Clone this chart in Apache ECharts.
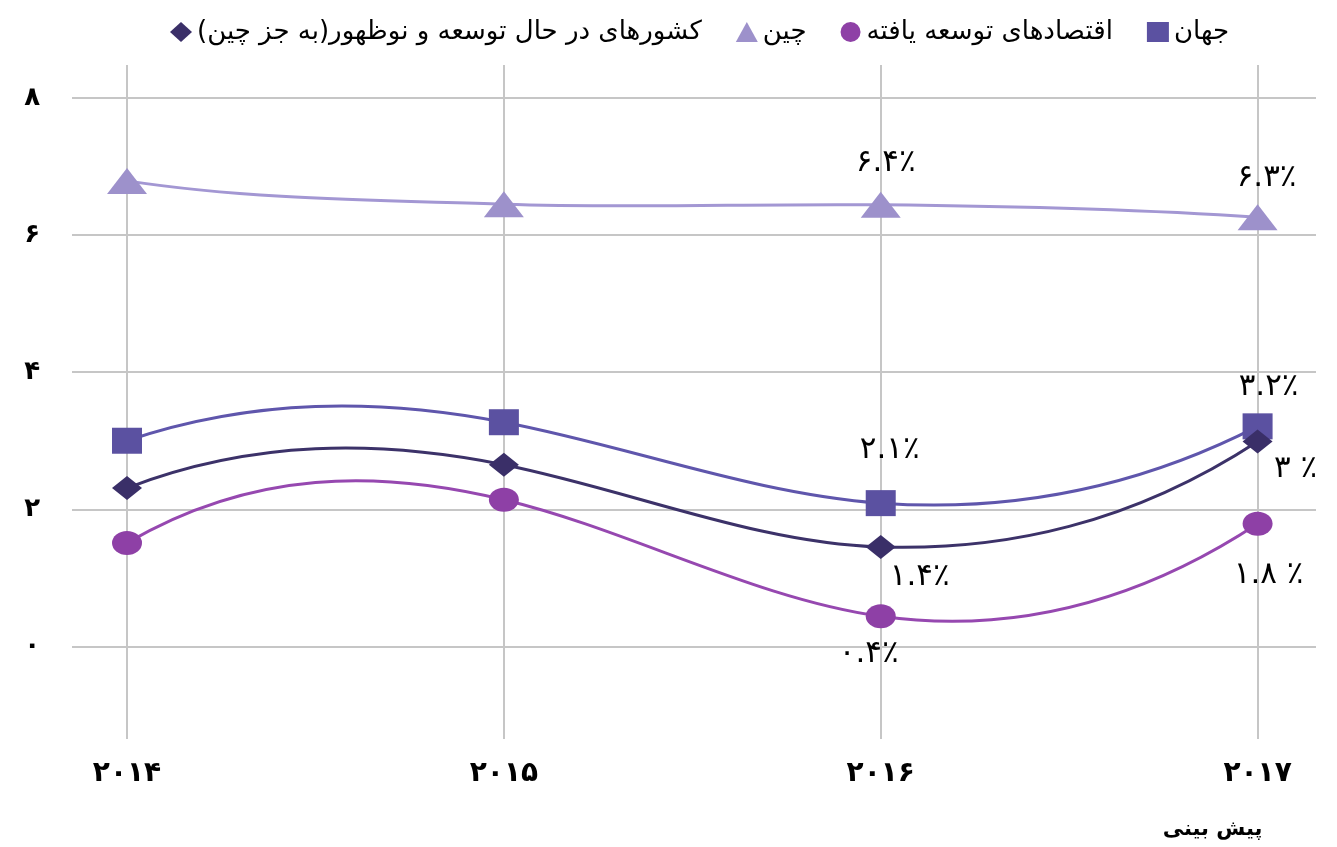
<!DOCTYPE html>
<html>
<head>
<meta charset="utf-8">
<script src="https://cdn.jsdelivr.net/npm/echarts@6/dist/echarts.min.js"></script>
<style>
  html, body { margin: 0; padding: 0; background: #fff; }
  #growth-chart { width: 1337px; height: 847px; }
</style>
</head>
<body>
<div id="growth-chart"></div>
<script>
// years on the x axis, the last one is a forecast
const years = ["۲۰۱۴", "۲۰۱۵", "۲۰۱۶", "۲۰۱۷"];
const yearNotes = ["", "", "", "پیش بینی"];
const yTicks = [0, 2, 4, 6, 8];

const nameWorld = "جهان";
const nameDeveloped = "اقتصادهای توسعه یافته";
const nameChina = "چین";
const nameDeveloping = "کشورهای در حال توسعه و نوظهور(به جز چین)\u200F";

// growth, percent
const world = [3.0, 3.27, 2.09, 3.21];
const china = [6.79, 6.45, 6.44, 6.26];
const developed = [1.51, 2.14, 0.44, 1.79];
const developing = [2.31, 2.65, 1.45, 2.99];

const worldLabels = ["", "", "۲.۱٪", "۳.۲٪"];
const chinaLabels = ["", "", "۶.۴٪", "۶.۳٪"];
const developedLabels = ["", "", "۰.۴٪", "۱.۸ ٪"];
const developingLabels = ["", "", "۱.۴٪", "۳ ٪"];

// where each value label sits relative to its point
const worldOffsets = [[0, 0], [0, 0], [9, -53], [11, -39]];
const chinaOffsets = [[0, 0], [0, 0], [5, -42], [9, -39]];
const developedOffsets = [[0, 0], [0, 0], [-12, 38], [11, 51]];
const developingOffsets = [[0, 0], [0, 0], [39, 30], [38, 28]];

const faDigits = "۰۱۲۳۴۵۶۷۸۹";
function fa(n) {
  return String(n).replace(/\d/g, (d) => faDigits[d]);
}

// slopes for a loose spline through evenly spaced points (the original
// chart's curves bulge more than echarts' own smoothing allows)
function curveSlopes(ys) {
  const n = ys.length;
  const a = [], b = [], c = [], d = [];
  for (let i = 1; i < n - 1; i++) {
    a.push(1); b.push(4); c.push(1);
    d.push(6 * (ys[i - 1] - 2 * ys[i] + ys[i + 1]));
  }
  // tridiagonal solve, natural ends
  const m = d.length;
  for (let i = 1; i < m; i++) {
    const w = a[i] / b[i - 1];
    b[i] -= w * c[i - 1];
    d[i] -= w * d[i - 1];
  }
  const inner = new Array(m);
  for (let i = m - 1; i >= 0; i--) {
    inner[i] = (d[i] - (i < m - 1 ? c[i] * inner[i + 1] : 0)) / b[i];
  }
  const M = [0, ...inner, 0];
  const s = new Array(n);
  for (let i = 1; i < n - 1; i++) {
    s[i] = 1.3 * ((ys[i + 1] - ys[i]) - (2 * M[i] + M[i + 1]) / 6);
  }
  s[0] = 3 * (ys[1] - ys[0]) - s[1];
  s[n - 1] = 0.75 * (3 * (ys[n - 1] - ys[n - 2]) - s[n - 2]);
  return s;
}

function makeCurve(name, values, color) {
  const slopes = curveSlopes(values);
  return {
    name: name + "-curve",
    type: "custom",
    coordinateSystem: "cartesian2d",
    z: 1,
    silent: true,
    data: values.map((v, i) => [i, v]),
    renderItem: (params, api) => {
      if (params.dataIndex !== 0) return null;
      const children = [];
      for (let i = 0; i < values.length - 1; i++) {
        const p0 = api.coord([i, values[i]]);
        const c0 = api.coord([i + 1 / 3, values[i] + slopes[i] / 3]);
        const c1 = api.coord([i + 2 / 3, values[i + 1] - slopes[i + 1] / 3]);
        const p1 = api.coord([i + 1, values[i + 1]]);
        children.push({
          type: "bezierCurve",
          shape: {
            x1: p0[0], y1: p0[1],
            cpx1: c0[0], cpy1: c0[1],
            cpx2: c1[0], cpy2: c1[1],
            x2: p1[0], y2: p1[1],
          },
          style: { fill: null, stroke: color, lineWidth: 3 },
        });
      }
      return { type: "group", children: children };
    },
  };
}

function makeSeries(name, values, labels, offsets, symbol, size, color) {
  return {
    name: name,
    type: "line",
    z: 3,
    symbol: symbol,
    symbolSize: size,
    itemStyle: { color: color },
    lineStyle: { opacity: 0 },
    label: {
      position: "inside",
      fontSize: 31,
      color: "#000",
      fontFamily: "DejaVu Sans",
    },
    emphasis: { disabled: true },
    data: values.map((v, i) => ({
      value: [i, v],
      label: { show: labels[i] !== "", formatter: labels[i], offset: offsets[i] },
    })),
  };
}

const chart = echarts.init(document.getElementById("growth-chart"));

chart.setOption({
  animation: false,
  textStyle: { fontFamily: "DejaVu Sans" },
  legend: {
    top: 14,
    left: 165,
    itemWidth: 22,
    itemHeight: 20,
    itemGap: 34,
    textStyle: { fontSize: 26, color: "#000" },
    data: [
      { name: nameDeveloping, icon: "diamond" },
      { name: nameChina, icon: "triangle" },
      { name: nameDeveloped, icon: "circle" },
      { name: nameWorld, icon: "rect" },
    ],
  },
  grid: {
    left: 72,
    right: 21,
    top: 65,
    bottom: 108,
    containLabel: false,
    outerBoundsMode: "none",
  },
  xAxis: {
    type: "value",
    min: -0.146,
    max: 3.155,
    axisLine: { show: false },
    axisTick: { show: false, customValues: [0, 1, 2, 3] },
    splitLine: { show: true, lineStyle: { color: "#c6c6c6", width: 2 } },
    axisLabel: {
      customValues: [0, 1, 2, 3],
      margin: 20,
      fontSize: 28,
      fontWeight: "bold",
      color: "#000",
      lineHeight: 30,
      formatter: (v) => {
        const i = Math.round(v);
        return yearNotes[i] ? years[i] + "\n{note|" + yearNotes[i] + "}" : years[i];
      },
      rich: {
        note: {
          fontSize: 21,
          fontWeight: "bold",
          color: "#000",
          lineHeight: 82,
          padding: [0, 90, 0, 0],
        },
      },
    },
  },
  yAxis: {
    type: "value",
    min: -1.35,
    max: 8.48,
    axisLine: { show: false },
    axisTick: { show: false, customValues: yTicks },
    splitLine: { show: true, lineStyle: { color: "#c6c6c6", width: 2 } },
    axisLabel: {
      customValues: yTicks,
      margin: 32,
      fontSize: 26,
      fontWeight: "bold",
      color: "#000",
      formatter: (v) => fa(v),
    },
  },
  series: [
    makeCurve(nameChina, china, "#a397d3"),
    makeCurve(nameWorld, world, "#5f56ac"),
    makeCurve(nameDeveloping, developing, "#3c3269"),
    makeCurve(nameDeveloped, developed, "#9648b0"),
    makeSeries(nameChina, china, chinaLabels, chinaOffsets, "triangle", [40, 26], "#9d91cb"),
    makeSeries(nameWorld, world, worldLabels, worldOffsets, "rect", [30, 26], "#5b51a1"),
    makeSeries(nameDeveloping, developing, developingLabels, developingOffsets, "diamond", [30, 24], "#3a2f68"),
    makeSeries(nameDeveloped, developed, developedLabels, developedOffsets, "circle", [30, 24], "#8e40a6"),
  ],
});

window.addEventListener("resize", () => {
  chart.resize();
});
</script>
</body>
</html>
